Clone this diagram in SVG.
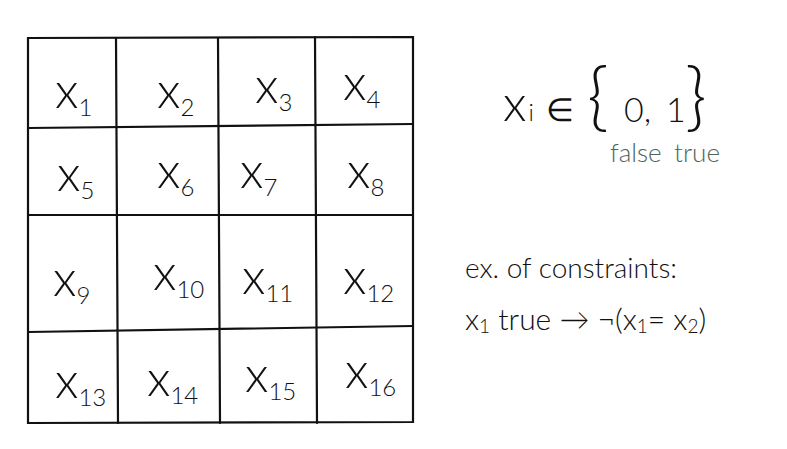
<svg xmlns="http://www.w3.org/2000/svg" width="787" height="449" viewBox="0 0 787 449">
<style>
.grid{fill:none;stroke:#111;stroke-width:2.2;stroke-linecap:round}
.v{font-family:Lato,"Liberation Sans",sans-serif;font-weight:300;font-size:50px;fill:#111}
.s{font-size:24px}
.t{font-family:Lato,"Liberation Sans",sans-serif;font-weight:300;font-size:28px;fill:#111}
.b{font-family:Lato,"Liberation Sans",sans-serif;font-weight:300;font-size:74px;fill:#111}
.g{font-family:Lato,"Liberation Sans",sans-serif;font-weight:300;font-size:26px;fill:#4f6358}
</style>
<rect width="787" height="449" fill="#fff"/>
<g id="grid">
<path class="grid" d="M28,38 L413,37 L413,422 L28,423 Z"/>
<path class="grid" d="M116,38 L118,423 M218,38 L220,423 M315,37 L317,423"/>
<path class="grid" d="M28,128 L413,124 M28,215 L413,215 M28,332 L413,326"/>
</g>
<g id="cells">
<g id="c1"><text class="v" x="55" y="108">x<tspan class="s" dy="8">1</tspan></text></g>
<g id="c2"><text class="v" x="157" y="108">x<tspan class="s" dy="8">2</tspan></text></g>
<g id="c3"><text class="v" x="255" y="103">x<tspan class="s" dy="8">3</tspan></text></g>
<g id="c4"><text class="v" x="343" y="100">x<tspan class="s" dy="8">4</tspan></text></g>
<g id="c5"><text class="v" x="57" y="191">x<tspan class="s" dy="8">5</tspan></text></g>
<g id="c6"><text class="v" x="157" y="188">x<tspan class="s" dy="8">6</tspan></text></g>
<g id="c7"><text class="v" x="240" y="188">x<tspan class="s" dy="8">7</tspan></text></g>
<g id="c8"><text class="v" x="347" y="188">x<tspan class="s" dy="8">8</tspan></text></g>
<g id="c9"><text class="v" x="53" y="296">x<tspan class="s" dy="8">9</tspan></text></g>
<g id="c10"><text class="v" x="153" y="290">x<tspan class="s" dy="8">10</tspan></text></g>
<g id="c11"><text class="v" x="242" y="294">x<tspan class="s" dy="8">11</tspan></text></g>
<g id="c12"><text class="v" x="343" y="294">x<tspan class="s" dy="8">12</tspan></text></g>
<g id="c13"><text class="v" x="55" y="398">x<tspan class="s" dy="8">13</tspan></text></g>
<g id="c14"><text class="v" x="147" y="396">x<tspan class="s" dy="8">14</tspan></text></g>
<g id="c15"><text class="v" x="245" y="392">x<tspan class="s" dy="8">15</tspan></text></g>
<g id="c16"><text class="v" x="345" y="388">x<tspan class="s" dy="8">16</tspan></text></g>
</g>
<g id="domain">
<text class="v" x="503" y="121">x<tspan class="s" dx="2">i</tspan><tspan dx="12" style="font-size:32px">∈</tspan></text>
<text class="b" x="587" y="122">{</text>
<text class="t" x="624" y="122" style="font-size:34px">0,</text>
<text class="t" x="666" y="122" style="font-size:34px">1</text>
<text class="b" x="685" y="122">}</text>
<text class="g" x="610" y="162">false</text>
<text class="g" x="674" y="162">true</text>
</g>
<g id="constraints">
<text class="t" x="465" y="278">ex. of constraints:</text>
<text class="t" x="465" y="330" style="font-size:30px">x<tspan style="font-size:19px" dy="3">1</tspan><tspan dy="-3"> true → ¬(x</tspan><tspan style="font-size:19px" dy="3">1</tspan><tspan dy="-3">= x</tspan><tspan style="font-size:19px" dy="3">2</tspan><tspan dy="-3">)</tspan></text>
</g>
</svg>
